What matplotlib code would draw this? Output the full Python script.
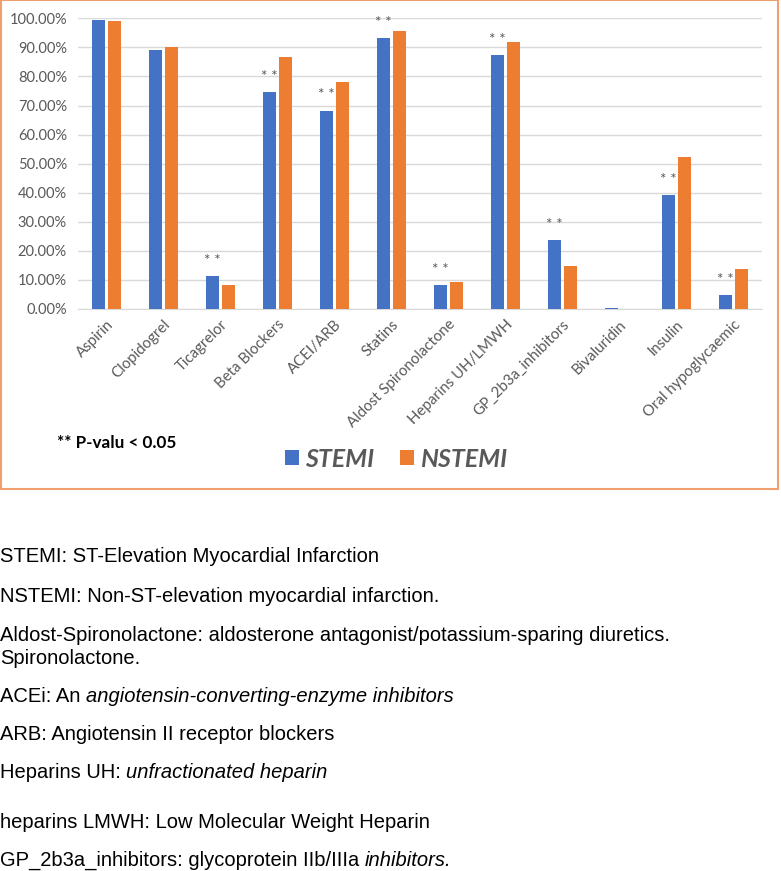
import matplotlib
matplotlib.use("Agg")
import matplotlib.pyplot as plt
import numpy as np
from matplotlib.patches import Rectangle
from matplotlib.ticker import FuncFormatter

categories = ["Aspirin", "Clopidogrel", "Ticagrelor", "Beta Blockers", "ACEI/ARB",
              "Statins", "Aldost Spironolactone", "Heparins UH/LMWH",
              "GP_2b3a_inhibitors", "Bivaluridin", "Insulin", "Oral hypoglycaemic"]
stemi = [99.3, 89.1, 11.2, 74.6, 68.2, 93.1, 8.1, 87.4, 23.7, 0.3, 39.2, 4.7]
nstemi = [99.1, 90.1, 8.3, 86.7, 78.0, 95.7, 9.4, 91.8, 14.7, 0.0, 52.3, 13.9]
significant = [False, False, True, True, True, True, True, True, True, False, True, True]
yticks = [0, 10, 20, 30, 40, 50, 60, 70, 80, 90, 100]

notes = [
    [("STEMI: ST-Elevation Myocardial Infarction", "normal")],
    [("NSTEMI: Non-ST-elevation myocardial infarction.", "normal")],
    [("Aldost-Spironolactone: aldosterone antagonist/potassium-sparing diuretics.", "normal")],
    [("Spironolactone.", "normal")],
    [("ACEi: An ", "normal"), ("angiotensin-converting-enzyme inhibitors", "italic")],
    [("ARB: Angiotensin II receptor blockers", "normal")],
    [("Heparins UH: ", "normal"), ("unfractionated heparin", "italic")],
    [("heparins LMWH: Low Molecular Weight Heparin", "normal")],
    [("GP_2b3a_inhibitors: glycoprotein IIb/IIIa ", "normal"), ("inhibitors.", "italic")],
]
note_y = [557, 596, 635, 659, 696, 734, 772, 822, 860]

W, H = 781, 871
fig = plt.figure(figsize=(W / 100, H / 100), dpi=100)
fig.patch.set_facecolor("white")

chart_font = ["Lato", "DejaVu Sans"]
blue = "#4472C4"
orange = "#ED7D31"
gray = "#595959"

ax = fig.add_axes([78 / W, 1 - 309 / H, (762 - 78) / W, (309 - 18.3) / H])
x = np.arange(len(categories))
bw = 0.23
ax.bar(x - bw / 2 - 0.025, stemi, width=bw, color=blue, zorder=3, label="STEMI")
ax.bar(x + bw / 2 + 0.025, nstemi, width=bw, color=orange, zorder=3, label="NSTEMI")
for i, s in enumerate(significant):
    if s:
        ax.annotate("* *", (x[i] - bw / 2 - 0.025, stemi[i]), xytext=(0, 6),
                    textcoords="offset points", ha="center", va="bottom",
                    fontsize=11, color=gray, family=chart_font)
ax.set_xlim(-0.5, len(categories) - 0.5)
ax.set_ylim(0, 100)
ax.set_yticks(yticks)
ax.yaxis.set_major_formatter(FuncFormatter(lambda v, p: f"{v:.2f}%"))
ax.grid(axis="y", color="#D9D9D9", linewidth=1, zorder=0)
for s in ["top", "right", "left"]:
    ax.spines[s].set_visible(False)
ax.spines["bottom"].set_color("#D9D9D9")
ax.tick_params(axis="both", length=0, colors=gray, labelsize=10.5)
ax.tick_params(axis="y", pad=8)
ax.tick_params(axis="x", pad=6)
ax.set_xticks(x)
ax.set_xticklabels(categories, rotation=45, ha="right", rotation_mode="anchor",
                   fontsize=10.8, color=gray)
for lab in ax.get_xticklabels() + ax.get_yticklabels():
    lab.set_family(chart_font)

leg = fig.legend(loc="center", bbox_to_anchor=(396 / W, 1 - 459 / H), ncol=2,
                 frameon=False, handlelength=0.56, handleheight=0.56, columnspacing=1.0,
                 handletextpad=0.25,
                 prop={"family": chart_font, "size": 18, "weight": "bold", "style": "italic"})
for t in leg.get_texts():
    t.set_color(gray)

fig.text(57 / W, 1 - 443 / H, "** P-valu < 0.05", fontsize=12.3, fontweight="bold",
         color="black", family=chart_font, va="center", ha="left")

fig.patches.append(Rectangle((1 / W, 1 - 489 / H), 777 / W, 488.5 / H, transform=fig.transFigure,
                             fill=False, edgecolor="#F0A070", linewidth=1.5))

note_font = ["Liberation Sans", "DejaVu Sans"]
renderer = fig.canvas.get_renderer()
for parts, yy in zip(notes, note_y):
    xx = 0 / W
    for txt, style in parts:
        t = fig.text(xx, 1 - yy / H, txt, fontsize=14.5, style=style, family=note_font,
                     va="center", ha="left", color="black")
        bb = t.get_window_extent(renderer=renderer)
        xx += bb.width / W

fig.savefig("out.png", dpi=100, facecolor="white")
